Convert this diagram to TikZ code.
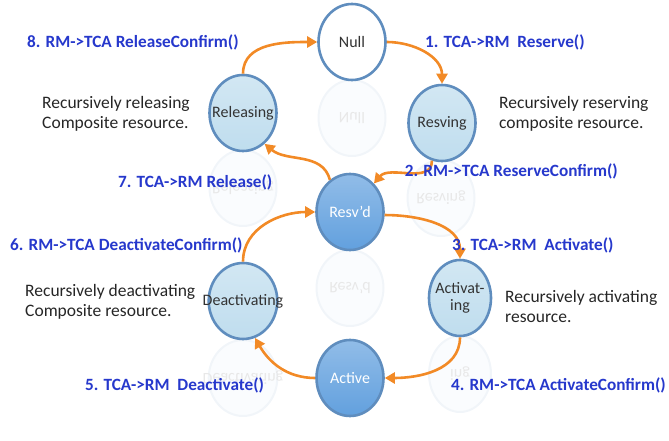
\documentclass[tikz,border=0pt]{standalone}
\usepackage{fontspec}
\setmainfont{Carlito}
\usetikzlibrary{shapes.geometric,arrows.meta}
\definecolor{flowc}{HTML}{F28A26}
\definecolor{labc}{HTML}{2638CC}
\definecolor{rimc}{HTML}{5F8DBE}
\definecolor{lightc}{HTML}{BFDDEE}
\definecolor{darkc}{HTML}{62A0DE}
\tikzset{
  state/.style={ellipse, draw=rimc, line width=2.6pt, minimum width=67pt, minimum height=76pt, inner sep=-16pt, align=center, font=\fontsize{16}{17}\selectfont, text=black!80},
  lightstate/.style={state, top color=lightc!70!white, bottom color=lightc},
  darkstate/.style={state, top color=darkc!70!white, bottom color=darkc, text=white},
  whitestate/.style={state, fill=white},
  ghost/.style={ellipse, draw=rimc!9, line width=2pt, fill=lightc!8, minimum width=67pt, minimum height=76pt, inner sep=-16pt, text=black!9, font=\fontsize{16}{17}\selectfont, yscale=-1},
  flow/.style={draw=flowc, line width=2.6pt, -{Triangle[length=10pt,width=11pt]}},
  msg/.style={text=labc, font=\bfseries\fontsize{17.2}{19}\selectfont, inner sep=0pt},
  note/.style={text=black!85, font=\fontsize{17.5}{20}\selectfont, align=left, inner sep=0pt},
}
\begin{document}
\begin{tikzpicture}[x=1pt,y=1pt]
\useasboundingbox (0,0) rectangle (669,-441);
% reflections
\node[ghost] (gnull) at (352,-118) {Null};
\node[ghost] (gresving) at (441,-198) {Resving};
\node[ghost] (greleasing) at (243,-188) {Releasing};
\node[ghost] (gresvd) at (350,-288) {Resv'd};
\node[ghost, minimum width=62pt] (gactivating) at (460,-374) {ing};
\node[ghost] (gdeactivating) at (243,-378) {Deactivating};
% states
\node[whitestate] (null) at (352,-42) {Null};
\node[lightstate] (resving) at (442,-123) {Resving};
\node[lightstate] (releasing) at (243,-113) {Releasing};
\node[darkstate] (resvd) at (350,-212) {Resv'd};
\node[lightstate, minimum width=62pt] (activating) at (460,-298) {Activat-\\ing};
\node[lightstate] (deactivating) at (243,-301) {Deactivating};
\node[darkstate] (active) at (350,-378) {Active};
% transitions
\draw[flow] (null.east) to[out=0,in=90] (resving.north);
\draw[flow] (resving.-105) to[out=-90,in=50] (resvd.50);
\draw[flow] (resvd.-5) to[out=0,in=90] (activating.north);
\draw[flow] (activating.south) to[out=-90,in=0] (active.east);
\draw[flow] (active.west) to[out=180,in=-60] (deactivating.-72);
\draw[flow] (deactivating.north) to[out=90,in=180] (resvd.west);
\draw[flow] (resvd.122) to[out=105,in=-40] (releasing.-55);
\draw[flow] (releasing.north) to[out=90,in=180] (null.west);
% labels
\node[msg, anchor=west] (m8) at (27,-42) {8. RM->TCA ReleaseConfirm()};
\node[msg, anchor=west] (m1) at (425,-42) {1. TCA->RM\ \ Reserve()};
\node[msg, anchor=west] (m7) at (118,-182) {7. TCA->RM Release()};
\node[msg, anchor=east] (m2) at (618,-171) {2. RM->TCA ReserveConfirm()};
\node[msg, anchor=west] (m6) at (10,-245) {6. RM->TCA DeactivateConfirm()};
\node[msg, anchor=west] (m3) at (452,-245) {3. TCA->RM\ \ Activate()};
\node[msg, anchor=west] (m5) at (85,-385) {5. TCA->RM\ \ Deactivate()};
\node[msg, anchor=east] (m4) at (666,-385) {4. RM->TCA ActivateConfirm()};
\node[note, anchor=west] (n8) at (42,-114) {Recursively releasing\\Composite resource.};
\node[note, anchor=west] (n1) at (499,-114) {Recursively reserving\\composite resource.};
\node[note, anchor=west] (n6) at (25,-302) {Recursively deactivating\\Composite resource.};
\node[note, anchor=west] (n3) at (505,-306) {Recursively activating\\resource.};
\end{tikzpicture}
\end{document}
